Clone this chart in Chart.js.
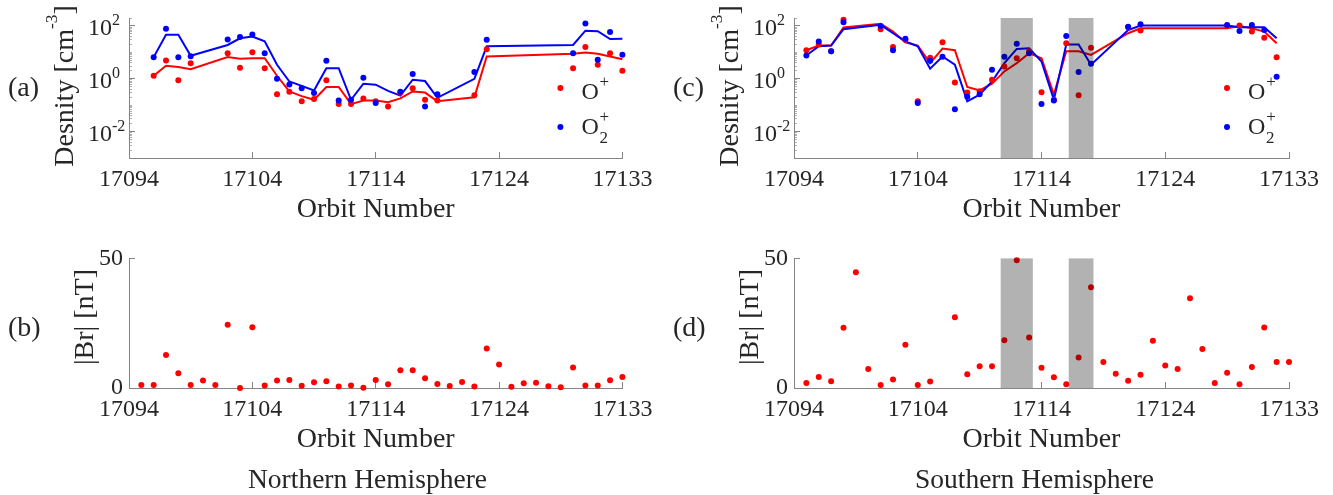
<!DOCTYPE html>
<html>
<head>
<meta charset="utf-8">
<script src="https://cdn.jsdelivr.net/npm/chart.js@4.4.1/dist/chart.umd.min.js"></script>
<style>
  body { margin: 0; background: #fff; }
  #fig { position: relative; width: 1333px; height: 495px; overflow: hidden;
         font-family: "Liberation Serif", "Times New Roman", serif; color: #262626; }
  canvas { position: absolute; }
  .txt { position: absolute; white-space: nowrap; line-height: 1; font-size: 28px; }
  .ylab { transform: translate(-50%, -50%) rotate(-90deg); }
  .cap { transform: translateX(-50%); font-size: 27.5px; }
  .sup { position: relative; top: -0.95em; font-size: 0.62em; }
</style>
</head>
<body>
<div id="fig">
  <canvas id="chartA" width="666" height="232" style="left:0;top:0"></canvas>
  <canvas id="chartB" width="666" height="263" style="left:0;top:232px"></canvas>
  <canvas id="chartC" width="667" height="232" style="left:666px;top:0"></canvas>
  <canvas id="chartD" width="667" height="263" style="left:666px;top:232px"></canvas>

  <div class="txt" style="left:8px;top:73px">(a)</div>
  <div class="txt" style="left:8px;top:313px">(b)</div>
  <div class="txt" style="left:673px;top:73px">(c)</div>
  <div class="txt" style="left:673px;top:313px">(d)</div>

  <div class="txt ylab" style="left:63.5px;top:86px">Desnity [cm<span class="sup">-3</span>]</div>
  <div class="txt ylab" style="left:83.5px;top:317px">|Br| [nT]</div>
  <div class="txt ylab" style="left:728.5px;top:86px">Desnity [cm<span class="sup">-3</span>]</div>
  <div class="txt ylab" style="left:748.5px;top:317px">|Br| [nT]</div>

  <div class="txt cap" style="left:367.5px;top:465px">Northern Hemisphere</div>
  <div class="txt cap" style="left:1034.5px;top:465px">Southern Hemisphere</div>
</div>
<script>
// orbit slots along the x axis (ticks are labelled with orbit numbers)
const orbitIndex = [1,2,3,4,5,6,7,8,9,10,11,12,13,14,15,16,17,18,19,20,
                    21,22,23,24,25,26,27,28,29,30,31,32,33,34,35,36,37,38,39,40];
const xTickPos = [0, 10, 20, 30, 40];
const xTickLabels = ['17094', '17104', '17114', '17124', '17133'];

const logMajorTicks = [0.01, 1, 100];
const logMajorExp = ['-2', '0', '2'];
const logMinorTicks = [0.002,0.003,0.004,0.005,0.006,0.007,0.008,0.009,
                       0.02,0.03,0.04,0.05,0.06,0.07,0.08,0.09,
                       0.1,0.2,0.3,0.4,0.5,0.6,0.7,0.8,0.9,
                       2,3,4,5,6,7,8,9,10,20,30,40,50,60,70,80,90,200];
const brTicks = [0, 50];

// northern hemisphere densities
const oPlusNorth = [null,1.3,4.9,0.87,3.9,null,null,9.3,2.6,10,
                    2.5,0.26,0.32,0.14,0.17,0.87,0.11,0.11,0.18,0.14,
                    0.09,0.3,0.44,0.16,0.15,null,null,0.24,13,null,
                    null,null,null,null,null,2.5,16,3.4,9.3,2.0];
const o2PlusNorth = [null,6.6,79,6.6,7.2,null,null,31,38,47,
                     9.3,1.0,0.61,0.44,0.29,4.8,0.15,0.16,1.1,0.12,
                     null,0.32,1.5,0.09,0.26,null,null,1.8,30,null,
                     null,null,null,null,null,9.3,125,5.2,59,8.1];
const oPlusNorthFit = [null,1.3,3.1,2.8,2.3,null,null,6.6,5.7,6,
                       6,1.3,0.33,0.22,0.16,0.49,0.49,0.11,0.15,0.15,
                       0.13,0.18,0.33,0.3,0.14,null,null,0.2,7,null,
                       null,null,null,null,null,8.8,9.8,8.8,7,5.5];
const o2PlusNorthFit = [null,6.6,46,46,7.4,null,null,19,34,40,
                        26,3.4,0.79,0.54,0.36,2.5,2.5,0.16,0.65,0.6,
                        0.35,0.23,0.92,0.82,0.19,null,null,1.0,17,null,
                        null,null,null,null,null,19,66,63,32,33];
const brNorth = [1.2,1.2,12.7,5.7,1.2,2.9,1.2,24.4,0,23.4,
                 1,2.9,3.1,0.9,2.2,2.6,0.6,1,0.1,3.1,
                 1.4,6.8,6.8,3.8,1.5,0.8,2.3,0.6,15.2,9.1,
                 0.5,1.8,2.0,0.7,0.3,7.9,1,1,3.0,4.2];

// southern hemisphere densities
const oPlusSouth = [12,20,11,170,null,null,75,16,30,0.14,
                    6.3,24,0.73,0.30,0.34,0.92,2.9,6,11,0.31,
                    0.16,22,0.24,15,null,null,90,67,null,null,
                    null,null,null,null,100,103,61,36,6.6,null];
const o2PlusSouth = [7.6,26,11,138,null,null,100,12,33,0.12,
                     4.8,6.8,0.07,0.21,0.26,2.2,6.8,21,9.3,0.11,
                     0.15,42,1.8,3.7,null,null,94,115,null,null,
                     null,null,null,null,109,65,109,71,1.2,null];
const oPlusSouthFit = [12,18,18,87,null,null,120,61,24,18,
                       3.9,14,12,0.49,0.36,0.65,1.9,3.9,9.3,6,
                       0.25,11,11,8,null,null,53,81,null,null,
                       null,null,null,null,81,100,81,61,22,null];
const o2PlusSouthFit = [7.6,17,18,75,null,null,110,53,26,17,
                        2.4,7,3.4,0.14,0.25,0.79,3.9,13.5,14.4,4.5,
                        0.16,20,20,3.4,null,null,70,103,null,null,
                        null,null,null,null,103,89,89,89,34,null];
const brSouth = [1.9,4.2,2.6,23.2,44.7,7.3,1.2,3.3,16.7,1.2,
                 2.5,null,27.3,5.3,8.4,8.4,18.4,49.3,19.5,7.8,
                 4.1,1.4,11.8,38.9,10,5.5,2.8,5.1,18.2,8.7,
                 7.3,34.6,15,1.9,5.9,1.4,8.1,23.3,10,10];

// shaded orbit intervals (southern panels)
const shadeStart = [16.7, 22.2];
const shadeEnd = [19.3, 24.2];

const RED = '#ff0000', BLUE = '#0000ff';
const TEXT = '#262626', AXIS = '#858585';
const FONT = '"Liberation Serif", "Times New Roman", serif';
Chart.defaults.font.family = FONT;
Chart.defaults.color = TEXT;

function pts(arr) {
  return orbitIndex.map((x, k) => ({ x: x, y: arr[k] }));
}

function dots(label, arr, color, order) {
  return { label: label, data: pts(arr), showLine: false, pointRadius: 3,
           pointBackgroundColor: color, pointBorderWidth: 0, order: order, clip: false };
}

function line(label, arr, color, order) {
  return { label: label, data: pts(arr), showLine: true, spanGaps: true, pointRadius: 0,
           borderColor: color, borderWidth: 2, order: order, clip: false };
}

// shading, log tick labels with exponents, and the ion legend
const figExtras = {
  id: 'figExtras',
  afterDatasetsDraw(chart, args, opts) {
    if (!opts.shade) return;
    const { ctx, chartArea, scales } = chart;
    ctx.save();
    ctx.fillStyle = 'rgba(0,0,0,0.3)';
    shadeStart.forEach((s, k) => {
      const x0 = scales.x.getPixelForValue(s);
      const x1 = scales.x.getPixelForValue(shadeEnd[k]);
      ctx.fillRect(x0, chartArea.top, x1 - x0, chartArea.bottom - chartArea.top);
    });
    ctx.restore();
  },
  afterDraw(chart, args, opts) {
    const { ctx, chartArea, scales } = chart;
    ctx.save();
    ctx.fillStyle = TEXT;
    if (opts.logLabels) {
      const xr = chartArea.left - 17;
      logMajorTicks.forEach((v, k) => {
        const py = scales.y.getPixelForValue(v);
        ctx.font = '24px ' + FONT;
        ctx.textAlign = 'right';
        ctx.textBaseline = 'middle';
        ctx.fillText('10', xr, py + 3);
        ctx.font = '16px ' + FONT;
        ctx.textAlign = 'left';
        ctx.fillText(logMajorExp[k], xr, py - 5);
      });
    }
    if (opts.legend) {
      const lx = chartArea.right - 62, top = chartArea.top;
      ctx.fillStyle = RED;
      ctx.beginPath(); ctx.arc(lx, top + 70, 3, 0, Math.PI * 2); ctx.fill();
      ctx.fillStyle = BLUE;
      ctx.beginPath(); ctx.arc(lx, top + 109, 3, 0, Math.PI * 2); ctx.fill();
      ctx.fillStyle = TEXT;
      ctx.textAlign = 'left';
      ctx.textBaseline = 'alphabetic';
      ctx.font = '24px ' + FONT;
      ctx.fillText('O', lx + 21, top + 80.5);
      ctx.fillText('O', lx + 21, top + 115.5);
      ctx.font = '17px ' + FONT;
      ctx.textAlign = 'center';
      ctx.textBaseline = 'middle';
      ctx.fillText('+', lx + 44, top + 65);
      ctx.fillText('+', lx + 44, top + 100);
      ctx.textAlign = 'left';
      ctx.textBaseline = 'alphabetic';
      ctx.fillText('2', lx + 39, top + 125);
    }
    ctx.restore();
  }
};

function xAxis(height, titlePad) {
  return {
    type: 'linear', position: 'bottom', min: 0, max: 40,
    afterBuildTicks: s => { s.ticks = xTickPos.map(v => ({ value: v })); },
    afterFit: s => { s.height = height; },
    ticks: { callback: v => xTickLabels[xTickPos.indexOf(v)], font: { size: 24 },
             padding: 13.6, maxRotation: 0, autoSkip: false, color: TEXT },
    grid: { drawOnChartArea: false, tickLength: -6, tickColor: AXIS, tickWidth: 1 },
    border: { display: true, color: AXIS, width: 1 },
    title: { display: true, text: 'Orbit Number', color: TEXT, font: { size: 28 },
             padding: { top: 0, bottom: titlePad } }
  };
}

function logScales(width) {
  return {
    y: {
      type: 'logarithmic', position: 'left', min: 0.001, max: 200, weight: 1,
      afterBuildTicks: s => { s.ticks = logMajorTicks.map(v => ({ value: v })); },
      afterFit: s => { s.width = width; },
      ticks: { display: false },
      grid: { drawOnChartArea: false, tickLength: -6, tickColor: AXIS, tickWidth: 1 },
      border: { display: true, color: AXIS, width: 1 }
    },
    yMinor: {
      type: 'logarithmic', position: 'left', min: 0.001, max: 200, weight: 0,
      afterBuildTicks: s => { s.ticks = logMinorTicks.map(v => ({ value: v })); },
      afterFit: s => { s.width = 0; },
      ticks: { display: false },
      grid: { drawOnChartArea: false, tickLength: -3, tickColor: '#b0b0b0', tickWidth: 1 },
      border: { display: false }
    }
  };
}

function brScale(width) {
  return {
    type: 'linear', position: 'left', min: 0, max: 50,
    afterBuildTicks: s => { s.ticks = brTicks.map(v => ({ value: v })); },
    afterFit: s => { s.width = width; },
    ticks: { font: { size: 24 }, padding: 12, color: TEXT },
    grid: { drawOnChartArea: false, tickLength: -6, tickColor: AXIS, tickWidth: 1 },
    border: { display: true, color: AXIS, width: 1 }
  };
}

function baseOptions(scales, padding, extras) {
  return {
    responsive: false, animation: false, events: [],
    layout: { padding: padding },
    scales: scales,
    plugins: { legend: { display: false }, tooltip: { enabled: false }, figExtras: extras }
  };
}

function densityChart(id, oPlus, o2Plus, oPlusFit, o2PlusFit, yWidth, rightPad, shade) {
  const scales = logScales(yWidth);
  scales.x = xAxis(74, 5.2);
  new Chart(document.getElementById(id), {
    type: 'scatter',
    data: { datasets: [
      dots('O+', oPlus, RED, 1),
      dots('O2+', o2Plus, BLUE, 0),
      line('O+ fit', oPlusFit, RED, 3),
      line('O2+ fit', o2PlusFit, BLUE, 2)
    ] },
    options: baseOptions(scales, { left: 0, top: 18, right: rightPad, bottom: 0 },
                         { logLabels: true, legend: true, shade: shade }),
    plugins: [figExtras]
  });
}

function brChart(id, br, yWidth, rightPad, shade) {
  const scales = { y: brScale(yWidth), x: xAxis(107, 38.2) };
  new Chart(document.getElementById(id), {
    type: 'scatter',
    data: { datasets: [ dots('|Br|', br, RED, 0) ] },
    options: baseOptions(scales, { left: 0, top: 17, right: rightPad, bottom: 0 },
                         { shade: shade }),
    plugins: [figExtras]
  });
}

densityChart('chartA', oPlusNorth, o2PlusNorth, oPlusNorthFit, o2PlusNorthFit, 129, 42, false);
brChart('chartB', brNorth, 129, 42, false);
densityChart('chartC', oPlusSouth, o2PlusSouth, oPlusSouthFit, o2PlusSouthFit, 128, 44, true);
brChart('chartD', brSouth, 128, 44, true);
</script>
</body>
</html>
